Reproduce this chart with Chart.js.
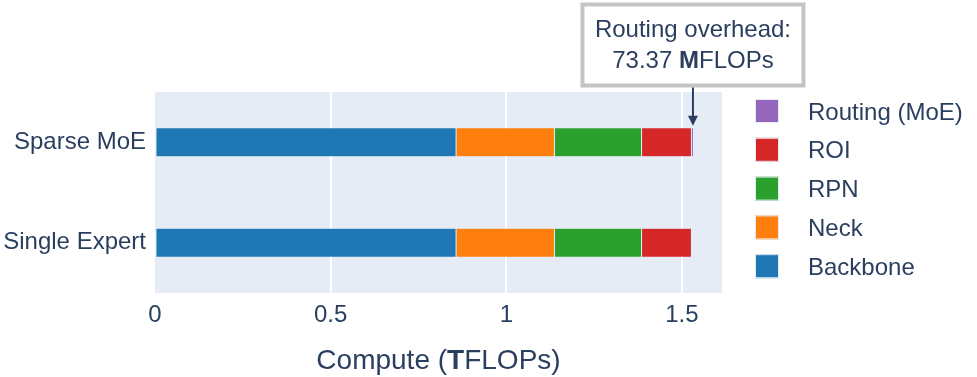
<!DOCTYPE html>
<html>
<head>
<meta charset="utf-8">
<script src="https://cdn.jsdelivr.net/npm/chart.js@4.4.1/dist/chart.umd.min.js"></script>
<style>
  html, body { margin: 0; padding: 0; background: #fff; }
  #wrap { position: relative; width: 977px; height: 377px; }
</style>
</head>
<body>
<div id="wrap"><canvas id="chart"></canvas></div>
<script>
// Compute per stage, in TFLOPs
const MODELS = ["Sparse MoE", "Single Expert"];
const BACKBONE = [0.857, 0.857];
const NECK = [0.28, 0.28];
const RPN = [0.248, 0.248];
const ROI = [0.142, 0.142];
const ROUTING = [73.37e-6, null]; // 73.37 MFLOPs, only the MoE has it

const X_TICKS = [0, 0.5, 1, 1.5];
const X_MAX = 1.614;

const TEXT = "#2a3f5f";
const PLOT_BG = "#E5ECF6";
const FONT = "'Liberation Sans', Arial, sans-serif";

// Legend is listed top-down: Routing first, Backbone last
const SERIES = [
  { label: "Backbone", data: BACKBONE, color: "#1f77b4" },
  { label: "Neck", data: NECK, color: "#ff7f0e" },
  { label: "RPN", data: RPN, color: "#2ca02c" },
  { label: "ROI", data: ROI, color: "#d62728" },
  { label: "Routing (MoE)", data: ROUTING, color: "#9467bd" },
];

Chart.defaults.font.family = FONT;
Chart.defaults.color = TEXT;

// ─── Plot background ─────────────────────────────────────────────────────────

const plotBg = {
  id: "plotBg",
  beforeDraw(chart) {
    const { ctx, chartArea: a } = chart;
    ctx.save();
    ctx.fillStyle = PLOT_BG;
    ctx.fillRect(a.left, a.top, a.right - a.left, a.bottom - a.top);
    ctx.restore();
  },
};

// ─── Axis title, legend and routing annotation ───────────────────────────────

function drawRich(ctx, parts, cx, y, size = 24) {
  // parts: [text, bold] pairs, drawn centred on cx
  const widths = parts.map(([t, b]) => {
    ctx.font = `${b ? "bold " : ""}${size}px ${FONT}`;
    return ctx.measureText(t).width;
  });
  let x = cx - widths.reduce((s, w) => s + w, 0) / 2;
  parts.forEach(([t, b], i) => {
    ctx.font = `${b ? "bold " : ""}${size}px ${FONT}`;
    ctx.fillText(t, x, y);
    x += widths[i];
  });
}

const extras = {
  id: "extras",
  afterDraw(chart) {
    const { ctx, chartArea: a } = chart;
    const xs = chart.scales.x;
    ctx.save();
    ctx.fillStyle = TEXT;
    ctx.textAlign = "left";
    ctx.textBaseline = "alphabetic";

    // x axis title with bold unit prefix
    drawRich(ctx, [["Compute (", false], ["T", true], ["FLOPs)", false]], (a.left + a.right) / 2, 369, 28);

    // legend, reversed order
    const items = SERIES.slice().reverse();
    items.forEach((s, i) => {
      const cy = 111 + i * 38.8;
      ctx.fillStyle = s.color;
      ctx.fillRect(755, cy - 12, 24, 24);
      ctx.strokeStyle = PLOT_BG;
      ctx.lineWidth = 1;
      ctx.strokeRect(755.5, cy - 11.5, 23, 23);
      ctx.fillStyle = TEXT;
      ctx.font = `24px ${FONT}`;
      ctx.fillText(s.label, 808, cy + 8.5);
    });

    // annotation pointing at the routing sliver of the MoE bar
    const total = SERIES.reduce((sum, s) => sum + (s.data[0] ?? 0), 0);
    const ax = xs.getPixelForValue(total) + 1.5;
    const meta = chart.getDatasetMeta(0).data[0];
    const barTop = meta.y - meta.height / 2;

    const boxW = 221, boxTop = 4.5, boxBottom = 85.5;
    ctx.fillStyle = "#fff";
    ctx.fillRect(ax - boxW / 2, boxTop, boxW, boxBottom - boxTop);
    ctx.strokeStyle = "#c4c4c4";
    ctx.lineWidth = 4;
    ctx.strokeRect(ax - boxW / 2, boxTop, boxW, boxBottom - boxTop);

    ctx.fillStyle = TEXT;
    drawRich(ctx, [["Routing overhead:", false]], ax, 37);
    drawRich(ctx, [["73.37 ", false], ["M", true], ["FLOPs", false]], ax, 68);

    // arrow
    const tipY = barTop - 2;
    ctx.strokeStyle = TEXT;
    ctx.lineWidth = 2;
    ctx.beginPath();
    ctx.moveTo(ax, boxBottom + 2);
    ctx.lineTo(ax, tipY - 8);
    ctx.stroke();
    ctx.beginPath();
    ctx.moveTo(ax - 5, tipY - 10);
    ctx.lineTo(ax + 5, tipY - 10);
    ctx.lineTo(ax, tipY);
    ctx.closePath();
    ctx.fill();

    ctx.restore();
  },
};

// ─── Chart ───────────────────────────────────────────────────────────────────

new Chart(document.getElementById("chart"), {
  type: "bar",
  data: {
    labels: MODELS,
    datasets: SERIES.map((s) => ({
      label: s.label,
      data: s.data,
      backgroundColor: s.color,
      borderColor: PLOT_BG,
      borderWidth: 0.5,
      borderSkipped: false,
      barPercentage: 0.29,
      categoryPercentage: 1.0,
      minBarLength: s.label.startsWith("Routing") ? 2 : 0,
    })),
  },
  options: {
    indexAxis: "y",
    responsive: true,
    maintainAspectRatio: false,
    animation: false,
    layout: { padding: { top: 92, right: 255, left: 0, bottom: 0 } },
    plugins: {
      legend: { display: false },
      tooltip: { enabled: false },
    },
    scales: {
      x: {
        stacked: true,
        min: 0,
        max: X_MAX,
        afterBuildTicks: (scale) => {
          scale.ticks = X_TICKS.map((v) => ({ value: v }));
        },
        afterFit: (scale) => {
          scale.height = 84;
        },
        grid: {
          color: (c) => (c.tick && c.tick.value === 0 ? "rgba(0,0,0,0)" : "#ffffff"),
          lineWidth: 2,
          drawTicks: false,
        },
        border: { display: false },
        ticks: {
          font: { size: 24 },
          color: TEXT,
          padding: 8,
          maxRotation: 0,
          callback: (v) => String(v),
        },
      },
      y: {
        stacked: true,
        afterFit: (scale) => {
          scale.width = 155;
        },
        grid: { display: false, drawTicks: false },
        border: { display: false },
        ticks: { font: { size: 24 }, color: TEXT, padding: 9 },
      },
    },
  },
  plugins: [plotBg, extras],
});
</script>
</body>
</html>
